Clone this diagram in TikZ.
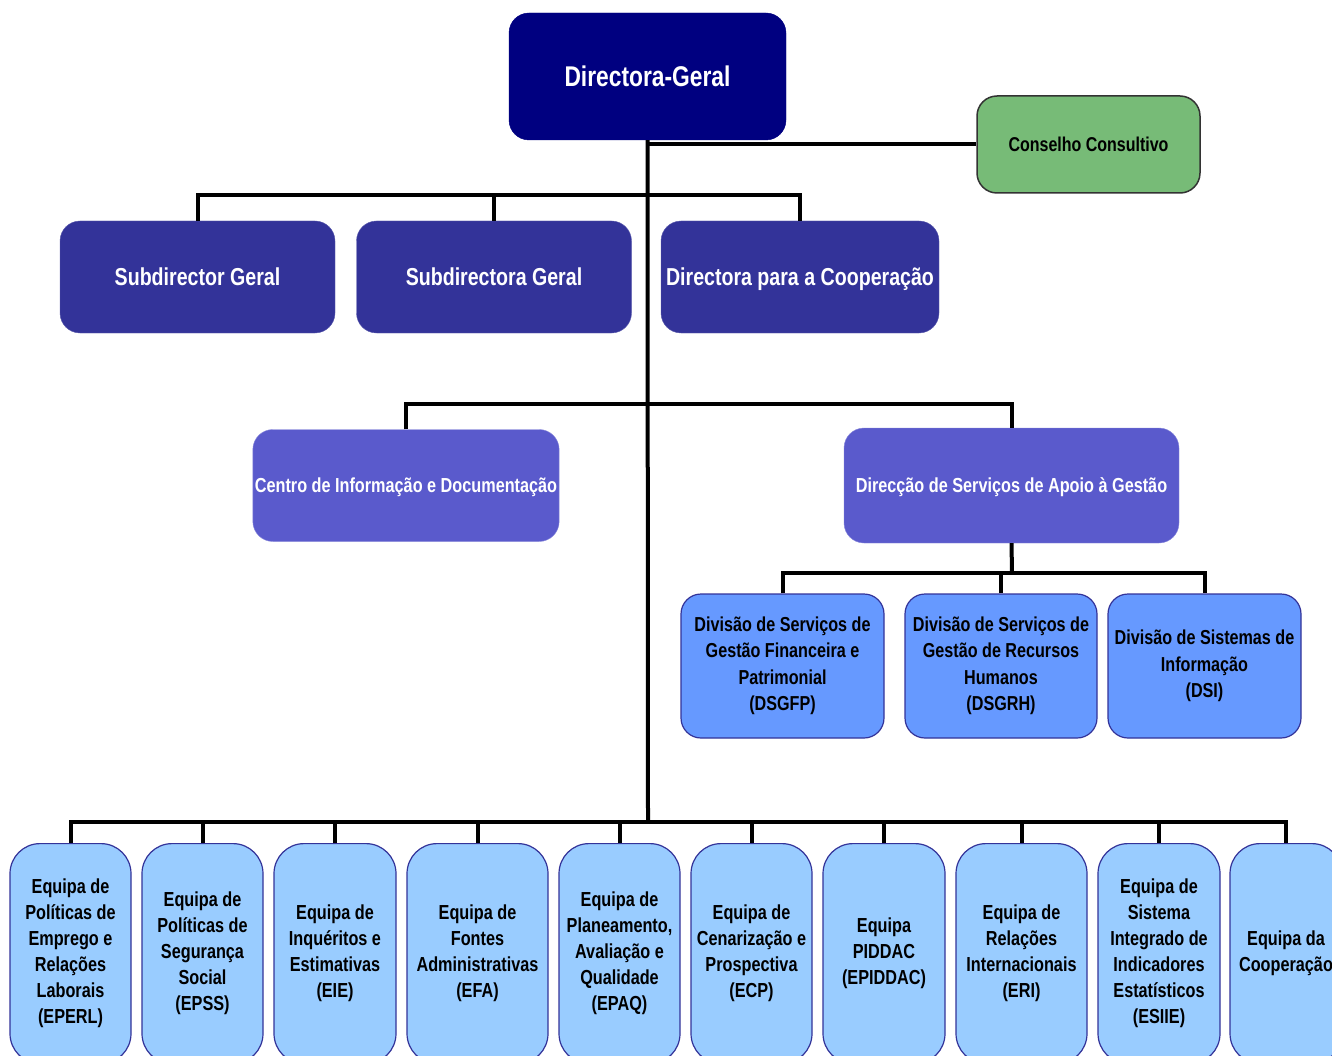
\documentclass[tikz,border=0pt]{standalone}
\usepackage{fontspec}
\setmainfont{Liberation Sans}[FakeStretch=0.8]
\definecolor{navyblue}{RGB}{0,0,128}
\definecolor{subblue}{RGB}{51,51,153}
\definecolor{midblue}{RGB}{90,90,204}
\definecolor{divblue}{RGB}{102,153,255}
\definecolor{teamblue}{RGB}{153,204,255}
\definecolor{councilgreen}{RGB}{119,187,119}
\begin{document}
\begin{tikzpicture}[x=1pt,y=-1pt]
\tikzstyle{box}=[draw, rectangle, rounded corners=20pt, align=center, inner sep=2pt]
\tikzstyle{head}=[box, fill=navyblue, draw=navyblue, text=white, minimum width=277pt, minimum height=127pt, font=\fontsize{28.5}{32}\selectfont\bfseries]
\tikzstyle{council}=[box, fill=councilgreen, draw=black!80, line width=1.5pt, minimum width=223pt, minimum height=97pt, font=\fontsize{20}{23}\selectfont\bfseries]
\tikzstyle{deputy}=[box, fill=subblue, draw=subblue!80!white, text=white, minimum width=275pt, minimum height=112pt, text depth=0pt, font=\fontsize{24.5}{28}\selectfont\bfseries]
\tikzstyle{service}=[box, fill=midblue, draw=midblue!70!white, text=white, minimum height=112pt, text depth=0pt, font=\fontsize{20.3}{25}\selectfont\bfseries]
\tikzstyle{division}=[box, fill=divblue, draw=subblue, line width=1.2pt, minimum height=144pt, font=\fontsize{20.2}{26.5}\selectfont\bfseries]
\tikzstyle{team}=[box, fill=teamblue, draw=subblue, line width=1.2pt, rounded corners=30pt, anchor=north, minimum height=220pt, font=\fontsize{20.3}{26}\selectfont\bfseries]
\tikzstyle{conn}=[draw, line width=4pt]

\useasboundingbox (0,0) rectangle (1332,1056);
\clip (0,0) rectangle (1332,1056);

% Define top of the chart
\node[head] (dg) at (647.5,76.5) {Directora-Geral};
\node[council] (cc) at (1088.5,144.5) {Conselho Consultivo};

% Deputies
\node[deputy] (sdg1) at (197.5,277) {Subdirector Geral};
\node[deputy] (sdg2) at (494,277) {Subdirectora Geral};
\node[deputy, minimum width=278pt] (dcoop) at (800,277) {Directora para a Cooperação};

% Services
\node[service, minimum width=304pt] (cid) at (406,485.5) {Centro de Informação e Documentação};
\node[service, minimum width=335pt, minimum height=115pt] (dsag) at (1011.5,485.5) {Direcção de Serviços de Apoio à Gestão};

% Divisions
\node[division, minimum width=203pt] (dsgfp) at (782.5,666) {Divisão de Serviços de\\Gestão Financeira e\\Patrimonial\\(DSGFP)};
\node[division, minimum width=192pt] (dsgrh) at (1001,666) {Divisão de Serviços de\\Gestão de Recursos\\Humanos\\(DSGRH)};
\node[division, minimum width=193pt] (dsi) at (1204.5,666) {Divisão de Sistemas de\\Informação\\(DSI)};

% Teams
\node[team, minimum width=121pt] (eperl) at (70.5,843) {Equipa de\\Políticas de\\Emprego e\\Relações\\Laborais\\(EPERL)};
\node[team, minimum width=121pt] (epss) at (202.5,843) {Equipa de\\Políticas de\\Segurança\\Social\\(EPSS)};
\node[team, minimum width=122pt] (eie) at (335,843) {Equipa de\\Inquéritos e\\Estimativas\\(EIE)};
\node[team, minimum width=141pt] (efa) at (477.5,843) {Equipa de\\Fontes\\Administrativas\\(EFA)};
\node[team, minimum width=121pt] (epaq) at (619.5,843) {Equipa de\\Planeamento,\\Avaliação e\\Qualidade\\(EPAQ)};
\node[team, minimum width=121pt] (ecp) at (751.5,843) {Equipa de\\Cenarização e\\Prospectiva\\(ECP)};
\node[team, minimum width=122pt] (epiddac) at (884,843) {Equipa\\PIDDAC\\(EPIDDAC)};
\node[team, minimum width=131pt] (eri) at (1021.5,843) {Equipa de\\Relações\\Internacionais\\(ERI)};
\node[team, minimum width=122pt] (esiie) at (1159,843) {Equipa de\\Sistema\\Integrado de\\Indicadores\\Estatísticos\\(ESIIE)};
\node[team, minimum width=112pt] (ecoop) at (1286,843) {Equipa da\\Cooperação};

% Junctions
\coordinate (busA) at (648,195);
\coordinate (busB) at (648,404);
\coordinate (busC) at (1012,573);
\coordinate (busD) at (648,822);

% Connectors
\draw[conn] (dg.south) -- (busD);
\draw[conn] (dg.south |- cc.west) -- (cc.west);
\draw[conn] (sdg1.north) |- (busA) -| (dcoop.north);
\draw[conn] (sdg2.north) -- (sdg2.north |- busA);
\draw[conn] (cid.north) |- (busB) -| (dsag.north);
\draw[conn] (dsag.south) -- (busC);
\draw[conn] (dsgfp.north) |- (busC) -| (dsi.north);
\draw[conn] (dsgrh.north) -- (dsgrh.north |- busC);
\draw[conn] (eperl.north) |- (busD) -| (ecoop.north);
\foreach \t in {epss,eie,efa,epaq,ecp,epiddac,eri,esiie}
  \draw[conn] (\t.north) -- (\t.north |- busD);
\end{tikzpicture}
\end{document}
